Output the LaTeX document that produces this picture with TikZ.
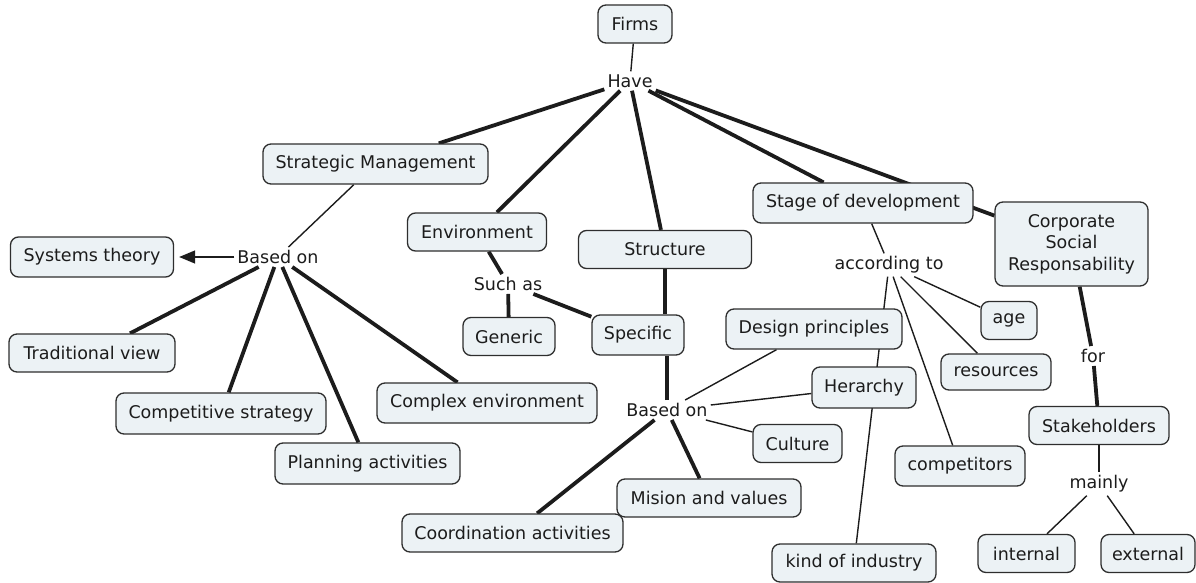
\documentclass[tikz,border=0pt]{standalone}
\usepackage{fontspec}
\setmainfont{DejaVu Sans}
\usetikzlibrary{arrows.meta,backgrounds}

\definecolor{boxfill}{HTML}{ECF2F5}
\definecolor{boxline}{HTML}{2E2E2E}
\definecolor{ink}{HTML}{1C1C1C}

\tikzset{
  box/.style={rectangle, rounded corners=8pt, draw=boxline, line width=1.3pt,
    fill=boxfill, text=ink, inner sep=0pt, minimum height=38pt, align=center},
  word/.style={text=ink, inner sep=3pt},
  strong/.style={line width=3.8pt},
  weak/.style={line width=1.4pt},
}

\begin{document}
\begin{tikzpicture}[x=1pt,y=-1pt,
    font=\fontsize{17.5}{21.5}\selectfont, draw=ink]

        \useasboundingbox (0,0) rectangle (1196,583);

        \begin{scope}[every node/.style={box}]
          \node[minimum width=74pt]  (firms)        at (635,24)     {Firms};
          \node[minimum width=225pt, minimum height=40pt] (strat) at (375.5,164) {Strategic Management};
          \node[minimum width=139pt] (env)          at (477,232)    {Environment};
          \node[minimum width=173pt] (structure)    at (665,249.5)  {Structure};
          \node[minimum width=220pt, minimum height=40pt] (stage) at (863,203) {Stage of development};
          \node[minimum width=153pt, minimum height=84pt] (csr) at (1071.5,244) {Corporate\\Social\\Responsability};
          \node[minimum width=163pt, minimum height=40pt] (systems) at (92,257) {Systems theory};
          \node[minimum width=166pt] (tradview)     at (92,353)     {Traditional view};
          \node[minimum width=210pt, minimum height=41pt] (compstrat) at (221,413.5) {Competitive strategy};
          \node[minimum width=185pt, minimum height=41pt] (planning) at (367.5,463.5) {Planning activities};
          \node[minimum width=220pt, minimum height=40pt] (complexenv) at (487,403) {Complex environment};
          \node[minimum width=92pt]  (generic)      at (509,336.5)  {Generic};
          \node[minimum width=92pt, minimum height=40pt] (specific) at (638,335) {Specific};
          \node[minimum width=176pt, minimum height=40pt] (design) at (814,329) {Design principles};
          \node[minimum width=104pt, minimum height=41pt] (herarchy) at (864,387.5) {Herarchy};
          \node[minimum width=89pt]  (culture)      at (797.5,443.5) {Culture};
          \node[minimum width=221pt] (coord)        at (512.5,533)  {Coordination activities};
          \node[minimum width=184pt] (mision)       at (709,498)    {Mision and values};
          \node[minimum width=164pt] (kind)         at (854,563)    {kind of industry};
          \node[minimum width=56pt]  (age)          at (1009,320.5) {age};
          \node[minimum width=110pt, minimum height=36pt] (resources) at (996,372) {resources};
          \node[minimum width=130pt, minimum height=40pt] (competitors) at (960,466) {competitors};
          \node[minimum width=140pt] (stakeholders) at (1099,425.5) {Stakeholders};
          \node[minimum width=97pt]  (internal)     at (1026.5,553.5) {internal};
          \node[minimum width=94pt]  (external)     at (1148,553.5) {external};
        \end{scope}

        \begin{scope}[every node/.style={word}]
          \node (have)      at (630,81)   {Have};
          \node (basedleft) at (278,257)  {Based on};
          \node (suchas)    at (508,284)  {Such as};
          \node (basedmid)  at (667,410)  {Based on};
          \node (according) at (889,265)  {according to};
          \node (for)       at (1093,356) {for};
          \node (mainly)    at (1099,484) {mainly};
        \end{scope}

        \begin{scope}[on background layer, every edge/.style={draw=ink}]
          \path (firms) edge[weak] (have);
          \path (have)  edge[strong] (strat);
          \path (have)  edge[strong] (env);
          \path (have)  edge[strong] (structure);
          \path (have)  edge[strong] (stage);
          \path (have)  edge[strong] (csr);

          \path (strat) edge[weak] (basedleft);
          \path (basedleft) edge[weak, -{Triangle[length=16pt,width=13pt]}, shorten >=5pt] (systems);
          \path (basedleft) edge[strong] (tradview);
          \path (basedleft) edge[strong] (compstrat);
          \path (basedleft) edge[strong] (planning);
          \path (basedleft) edge[strong] (complexenv);

          \path (env)    edge[strong] (suchas);
          \path (suchas) edge[strong] (generic);
          \path (suchas) edge[strong] (specific);

          \path (structure) edge[strong] (structure |- specific.north);
          \path (basedmid)  edge[strong] (basedmid |- specific.south);
          \path (basedmid)  edge[weak] (design);
          \path (basedmid)  edge[weak] (herarchy);
          \path (basedmid)  edge[weak] (culture);
          \path (basedmid)  edge[strong] (coord);
          \path (basedmid)  edge[strong] (mision);

          \path (stage)     edge[weak] (according);
          \path (according) edge[weak] (age);
          \path (according) edge[weak] (resources);
          \path (according) edge[weak] (competitors);
          \path (according) edge[weak] (kind);

          \path (csr)    edge[strong] (for);
          \path (for)    edge[strong] (stakeholders);
          \path (stakeholders) edge[weak] (mainly);
          \path (mainly) edge[weak] (internal);
          \path (mainly) edge[weak] (external);
        \end{scope}

      \end{tikzpicture}
\end{document}
